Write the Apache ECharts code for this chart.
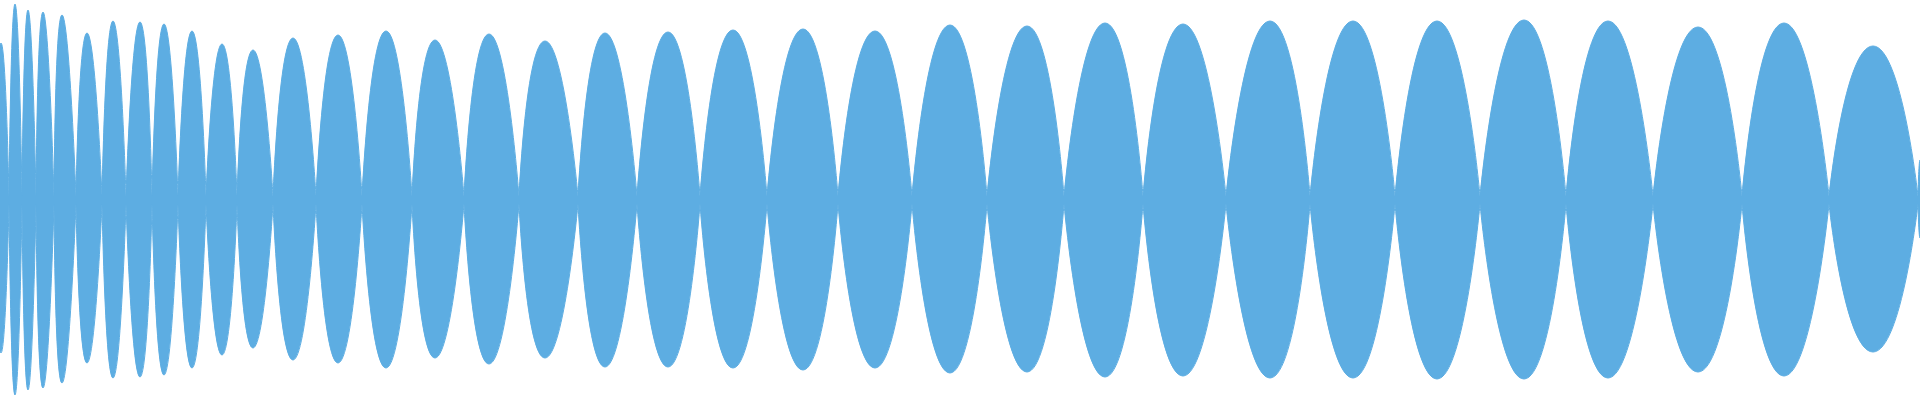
<!DOCTYPE html>
<html>
<head>
<meta charset="utf-8">
<style>
  html, body { margin: 0; padding: 0; background: #fff; }
  #wave { width: 1920px; height: 400px; }
</style>
<script src="https://cdn.jsdelivr.net/npm/echarts@6/dist/echarts.min.js"></script>
</head>
<body>
<div id="wave"></div>
<script>
// zero crossings of the envelope (time units), one more than the lobes
const crossings = [-6, 9, 22, 36, 54, 76, 102, 126, 152, 178, 206, 237, 273, 316, 362, 412, 464, 519, 578, 637,
  700, 767, 838, 912, 987, 1064, 1143, 1226, 1310, 1395, 1480, 1566, 1653, 1742, 1829, 1918, 1922]
// time of each lobe's peak
const peakTimes = [1, 15, 28, 43, 62, 87, 113, 140, 164, 192, 222, 253, 293, 338, 386, 435, 489, 545, 605, 668,
  733, 803, 875, 950, 1027, 1105, 1183, 1270, 1353, 1437, 1524, 1608, 1698, 1784, 1873, 1920]
// peak amplitude above / below the centre line
const upperPeaks = [0.785, 0.98, 0.95, 0.94, 0.925, 0.835, 0.895, 0.89, 0.88, 0.845, 0.78, 0.75, 0.81, 0.825, 0.845, 0.8, 0.83, 0.795, 0.835, 0.84,
  0.85, 0.855, 0.845, 0.875, 0.87, 0.885, 0.88, 0.895, 0.895, 0.895, 0.9, 0.895, 0.865, 0.885, 0.77, 0.2]
const lowerPeaks = [0.765, 0.975, 0.95, 0.94, 0.915, 0.815, 0.89, 0.885, 0.875, 0.84, 0.775, 0.74, 0.8, 0.815, 0.84, 0.79, 0.82, 0.79, 0.835, 0.835,
  0.84, 0.85, 0.84, 0.865, 0.86, 0.885, 0.88, 0.89, 0.89, 0.895, 0.895, 0.89, 0.86, 0.88, 0.76, 0.19]
// amplitude left at the crossings
const neck = 0.02

function buildLobes(peaks, sign) {
  const out = []
  for (let i = 0; i < peaks.length; i++) {
    out.push([crossings[i], sign * neck])
    out.push([peakTimes[i], sign * peaks[i]])
    out.push([crossings[i + 1], sign * neck])
    out.push([crossings[i + 1], '-']) // break so every lobe is smoothed alone
  }
  return out
}

const color = '#5DADE2'
const chart = echarts.init(document.getElementById('wave'))
const waveSeries = function(name, data) {
  return {
    name: name,
    type: 'line',
    data: data,
    smooth: 0.64,
    showSymbol: false,
    connectNulls: false,
    lineStyle: { color: color, width: 1 },
    areaStyle: { color: color, opacity: 1, origin: 0 }
  }
}
chart.setOption({
  animation: false,
  grid: { left: 0, right: 0, top: 0, bottom: 0 },
  xAxis: { type: 'value', min: 0, max: 1920, show: false },
  yAxis: { type: 'value', min: -1, max: 1, show: false },
  series: [
    waveSeries('upper', buildLobes(upperPeaks, 1)),
    waveSeries('lower', buildLobes(lowerPeaks, -1))
  ]
})
</script>
</body>
</html>
